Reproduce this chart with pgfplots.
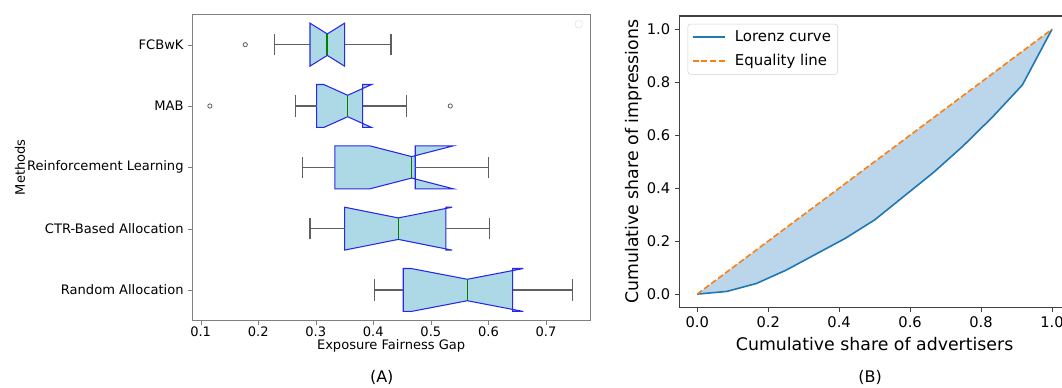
\documentclass[border=0pt]{standalone}
\usepackage{fontspec}
\setmainfont{DejaVu Sans}
\usepackage{pgfplots}
\pgfplotsset{compat=1.18}
\definecolor{lblue}{RGB}{173,216,230}
\definecolor{bedge}{RGB}{40,40,235}
\definecolor{medc}{RGB}{0,128,0}
\definecolor{wcol}{RGB}{95,95,95}
\definecolor{cz}{HTML}{1F77B4}
\definecolor{co}{HTML}{FF7F0E}
\definecolor{lfill}{RGB}{187,214,234}
\begin{document}
\begin{tikzpicture}
% ---------- Panel A ----------
\begin{axis}[
  at={(144.2pt,50.5pt)}, anchor=south west, scale only axis,
  width=298.3pt, height=230pt,
  xmin=0.0854, xmax=0.7765, ymin=0.5, ymax=5.5,
  xtick={0.1,0.2,0.3,0.4,0.5,0.6,0.7},
  ytick={1,2,3,4,5},
  yticklabels={Random Allocation, CTR-Based Allocation, Reinforcement Learning, MAB, FCBwK},
  xticklabel style={/pgf/number format/fixed, /pgf/number format/precision=1, /pgf/number format/fixed zerofill, yshift=2pt},
  /pgf/number format/assume math mode=true,
  tick align=outside, xtick pos=lower, ytick pos=left, major tick length=3pt,
  axis line style={gray}, tick style={gray},
  font=\fontsize{9.8}{11.8}\selectfont,
  xlabel={Exposure Fairness Gap}, ylabel={Methods},
  xlabel style={at={(axis description cs:0.5,-0.0825)}, anchor=center},
  ylabel style={at={(axis description cs:-0.433,0.5)}, anchor=center},
  clip=false,
]
% FCBwK (pos 5)
\addplot[fill=lblue, draw=bedge, line width=0.8pt] coordinates {(0.290,4.65) (0.320,4.825) (0.350,4.65) (0.350,5.35) (0.320,5.175) (0.290,5.35)} -- cycle;
\addplot[medc, line width=1.2pt] coordinates {(0.320,4.825) (0.320,5.175)};
\addplot[wcol, line width=0.8pt] coordinates {(0.2286,5) (0.290,5)};
\addplot[wcol, line width=0.8pt] coordinates {(0.350,5) (0.4307,5)};
\addplot[wcol, line width=0.8pt] coordinates {(0.2286,4.825) (0.2286,5.175)};
\addplot[wcol, line width=0.8pt] coordinates {(0.4307,4.825) (0.4307,5.175)};
\addplot[only marks, mark=o, mark size=1.6pt, wcol, line width=0.6pt] coordinates {(0.1775,5)};
% MAB (pos 4)
\addplot[fill=lblue, draw=bedge, line width=0.8pt] coordinates {(0.3015,3.65) (0.314,3.65) (0.3554,3.825) (0.397,3.65) (0.3815,3.65) (0.3815,4.35) (0.397,4.35) (0.3554,4.175) (0.314,4.35) (0.3015,4.35)} -- cycle;
\addplot[medc, line width=1.2pt] coordinates {(0.3554,3.825) (0.3554,4.175)};
\addplot[wcol, line width=0.8pt] coordinates {(0.265,4) (0.3015,4)};
\addplot[wcol, line width=0.8pt] coordinates {(0.3815,4) (0.457,4)};
\addplot[wcol, line width=0.8pt] coordinates {(0.265,3.825) (0.265,4.175)};
\addplot[wcol, line width=0.8pt] coordinates {(0.457,3.825) (0.457,4.175)};
\addplot[only marks, mark=o, mark size=1.6pt, wcol, line width=0.6pt] coordinates {(0.116,4) (0.5337,4)};
% Reinforcement Learning (pos 3)
\addplot[fill=lblue, draw=bedge, line width=0.8pt] coordinates {(0.3333,2.65) (0.3942,2.65) (0.4666,2.825) (0.539,2.65) (0.4729,2.65) (0.4729,3.35) (0.539,3.35) (0.4666,3.175) (0.3942,3.35) (0.3333,3.35)} -- cycle;
\addplot[medc, line width=1.2pt] coordinates {(0.4666,2.825) (0.4666,3.175)};
\addplot[wcol, line width=0.8pt] coordinates {(0.2772,3) (0.3333,3)};
\addplot[wcol, line width=0.8pt] coordinates {(0.4729,3) (0.5998,3)};
\addplot[wcol, line width=0.8pt] coordinates {(0.2772,2.825) (0.2772,3.175)};
\addplot[wcol, line width=0.8pt] coordinates {(0.5998,2.825) (0.5998,3.175)};
% CTR-Based Allocation (pos 2)
\addplot[fill=lblue, draw=bedge, line width=0.8pt] coordinates {(0.350,1.65) (0.4434,1.825) (0.537,1.65) (0.5262,1.65) (0.5262,2.35) (0.537,2.35) (0.4434,2.175) (0.350,2.35)} -- cycle;
\addplot[medc, line width=1.2pt] coordinates {(0.4434,1.825) (0.4434,2.175)};
\addplot[wcol, line width=0.8pt] coordinates {(0.290,2) (0.350,2)};
\addplot[wcol, line width=0.8pt] coordinates {(0.5262,2) (0.602,2)};
\addplot[wcol, line width=0.8pt] coordinates {(0.290,1.825) (0.290,2.175)};
\addplot[wcol, line width=0.8pt] coordinates {(0.602,1.825) (0.602,2.175)};
% Random Allocation (pos 1)
\addplot[fill=lblue, draw=bedge, line width=0.8pt] coordinates {(0.452,0.65) (0.466,0.65) (0.5633,0.825) (0.6606,0.65) (0.6421,0.65) (0.6421,1.35) (0.6606,1.35) (0.5633,1.175) (0.466,1.35) (0.452,1.35)} -- cycle;
\addplot[medc, line width=1.2pt] coordinates {(0.5633,0.825) (0.5633,1.175)};
\addplot[wcol, line width=0.8pt] coordinates {(0.4017,1) (0.452,1)};
\addplot[wcol, line width=0.8pt] coordinates {(0.6421,1) (0.7457,1)};
\addplot[wcol, line width=0.8pt] coordinates {(0.4017,0.825) (0.4017,1.175)};
\addplot[wcol, line width=0.8pt] coordinates {(0.7457,0.825) (0.7457,1.175)};
% empty legend frame
\node[draw=gray!25, rounded corners=1pt, minimum size=5pt, inner sep=0pt] at (rel axis cs:0.972,0.967) {};
\end{axis}
% ---------- Panel B ----------
\begin{axis}[
  at={(509.6pt,60.5pt)}, anchor=south west, scale only axis,
  width=292.7pt, height=218.5pt,
  xmin=-0.05, xmax=1.05, ymin=-0.05, ymax=1.05,
  xtick={0,0.2,0.4,0.6,0.8,1}, ytick={0,0.2,0.4,0.6,0.8,1},
  xticklabel style={/pgf/number format/fixed, /pgf/number format/precision=1, /pgf/number format/fixed zerofill},
  yticklabel style={/pgf/number format/fixed, /pgf/number format/precision=1, /pgf/number format/fixed zerofill},
  /pgf/number format/assume math mode=true,
  tick align=outside, xtick pos=lower, ytick pos=left, major tick length=3.5pt,
  axis line style={draw=none}, tick style={black!75},
  tick label style={font=\fontsize{11}{13}\selectfont},
  label style={font=\fontsize{13}{15}\selectfont},
  xlabel={Cumulative share of advertisers}, ylabel={Cumulative share of impressions},
  ylabel style={at={(axis description cs:-0.1166,0.5)}, anchor=center},
  legend style={at={(0.021,0.973)}, anchor=north west, draw=gray!35, rounded corners=2pt,
    font=\fontsize{11.2}{13}\selectfont, row sep=4pt, inner sep=3pt, cells={anchor=west},
    /tikz/every odd column/.append style={column sep=5pt}},
  legend image code/.code={\draw[#1] (0pt,0pt) -- (24pt,0pt);},
  clip=false,
]
\addplot[fill=lfill, draw=none, forget plot] coordinates {(0,0) (0.0833,0.01) (0.1667,0.04) (0.25,0.09) (0.3333,0.15) (0.4167,0.21) (0.5,0.28) (0.5833,0.37) (0.6667,0.46) (0.75,0.56) (0.8333,0.67) (0.9167,0.79) (1,1)} -- cycle;
\addplot[cz, line width=1.2pt] coordinates {(0,0) (0.0833,0.01) (0.1667,0.04) (0.25,0.09) (0.3333,0.15) (0.4167,0.21) (0.5,0.28) (0.5833,0.37) (0.6667,0.46) (0.75,0.56) (0.8333,0.67) (0.9167,0.79) (1,1)};
\addlegendentry{Lorenz curve}
\addplot[co, line width=1.2pt, dash pattern=on 4.5pt off 2pt] coordinates {(0,0) (1,1)};
\addlegendentry{Equality line}
% spines (the right one lies beyond the picture's edge)
\draw[black!75, line width=0.8pt] (axis cs:1.027,-0.05) -- (axis cs:-0.05,-0.05) -- (axis cs:-0.05,1.05) -- (axis cs:1.027,1.05);
\end{axis}
\node[font=\fontsize{12}{14}\selectfont] at (286.3pt,8pt) {(A)};
\node[font=\fontsize{12}{14}\selectfont] at (652.5pt,8pt) {(B)};
\pgfresetboundingbox
\useasboundingbox (0,0) rectangle (796.5pt,291pt);
\end{tikzpicture}
\end{document}
